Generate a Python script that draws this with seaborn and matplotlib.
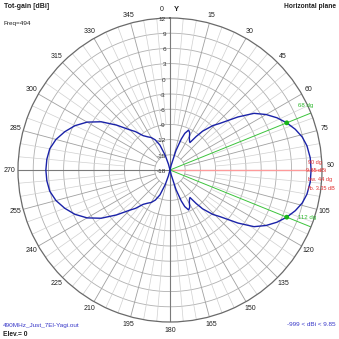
import numpy as np
import pandas as pd
import matplotlib
matplotlib.use("Agg")
import matplotlib.pyplot as plt
import seaborn as sns

# ---- data (bearing in degrees, clockwise from north; gain in dBi)
bearing_deg = [0, 5, 10, 14, 17, 20, 22, 25, 28, 31, 34, 36, 38, 40, 44, 47, 52, 56, 60, 64, 68,
               72, 76, 80, 85, 90, 95, 100, 104, 108, 112, 116, 120, 124, 128, 133, 136, 140,
               142, 144, 146, 149, 152, 155, 158, 160, 163, 166, 170, 175, 180,
               185, 190, 195, 198, 202, 206, 210, 214, 218, 222, 225, 230, 235, 240, 245, 250,
               255, 260, 265, 270, 275, 280, 285, 290, 295, 300, 305, 310, 315, 318, 322, 326,
               330, 334, 338, 342, 345, 350, 355, 360]
gain_dbi = [-18, -18, -18, -17, -14, -11.5, -10.2, -9.3, -9.7, -10.6, -11.1, -11.3, -9.6, -8.0, -5.8, -4.5, -1.0, 2.0, 3.9, 5.5, 6.85,
            8.0, 8.9, 9.45, 9.78, 9.85, 9.78, 9.45, 8.9, 8.0, 6.85, 5.5, 3.9, 2.0, -1.0, -4.5, -5.8, -8.0,
            -9.6, -11.3, -11.1, -10.6, -9.7, -9.3, -10.2, -11.5, -14, -17, -18, -18, -18,
            -18, -18, -16.8, -15, -12.7, -11.4, -10.6, -10.1, -9.4, -7.8, -6.8, -4.2, -1.4, 0.9, 2.7, 4.1,
            5.3, 6.1, 6.4, 6.5, 6.4, 6.1, 5.3, 4.1, 2.7, 0.9, -1.4, -4.2, -6.8, -7.8, -9.4, -10.1,
            -10.6, -11.4, -12.7, -15, -16.8, -18, -18, -18]

ring_values = [12, 9, 6, 3, 0, -3, -6, -9, -12, -15, -18]
ring_labels = ["12", "9", "6", "3", "0", "-3", "-6", "-9", "-12", "-15", "-18"]
angle_ticks = list(range(0, 360, 15))
angle_labels = [str(a) for a in angle_ticks]

max_dir = 90
max_gain = 9.85
bw_dirs = [68, 112]
bw_gain = 6.85
fb = 3.35
bw = 44

R_MIN, R_MAX = -18, 12

sns.set_style("white")
plt.rcParams['font.family'] = ['Liberation Sans', 'DejaVu Sans']

W = H = 339
fig = plt.figure(figsize=(W / 100, H / 100), dpi=100)
cx, cy, rad = 170, 170, 152
ax = fig.add_axes([(cx - rad) / W, (H - cy - rad) / H, 2 * rad / W, 2 * rad / H],
                  projection='polar')
ax.set_theta_zero_location('N')
ax.set_theta_direction(-1)
ax.set_ylim(R_MIN, R_MAX)
ax.set_xticks([])
ax.set_yticks([])
ax.grid(False)
ax.spines['polar'].set_color('#6a6a6a')
ax.spines['polar'].set_linewidth(0.9)

# grid rings
tt = np.linspace(0, 2 * np.pi, 721)
for rv in ring_values[1:-1]:
    ax.plot(tt, np.full_like(tt, rv), color='#b0b0b0', lw=0.6, zorder=1)

# radial grid lines
for a in range(0, 360, 5):
    th = np.deg2rad(a)
    if a % 90 == 0:
        ax.plot([th, th], [R_MIN, R_MAX], color='#7a7a7a', lw=0.8, zorder=1)
    elif a % 15 == 0:
        ax.plot([th, th], [-15, R_MAX], color='#a0a0a0', lw=0.6, zorder=1)
    else:
        ax.plot([th, th], [-9, R_MAX], color='#d0d0d0', lw=0.5, zorder=1)

# max direction line (red) and beamwidth lines (green)
ax.plot([np.deg2rad(max_dir)] * 2, [R_MIN, R_MAX], color='#ff9a9a', lw=0.9, zorder=2)
for d in bw_dirs:
    ax.plot([np.deg2rad(d)] * 2, [R_MIN, R_MAX], color='#3cc43c', lw=0.7, zorder=2)

# pattern
df = pd.DataFrame({'theta': np.deg2rad(bearing_deg), 'gain': gain_dbi})
sns.lineplot(data=df, x='theta', y='gain', ax=ax, sort=False, estimator=None,
             color='#1a22a8', lw=1.0, zorder=4)
ax.set_xlabel('')
ax.set_ylabel('')

sns.scatterplot(x=np.deg2rad(bw_dirs), y=[bw_gain] * len(bw_dirs), ax=ax, color='#18b418',
                s=12, edgecolor='none', zorder=5)
ax.set_xlabel('')
ax.set_ylabel('')
ax.set_ylim(R_MIN, R_MAX)

# angle labels
for a, lab in zip(angle_ticks, angle_labels):
    if a == 0:
        ax.text(np.deg2rad(-3), R_MAX + 1.65, lab, ha='center', va='center', fontsize=5, color='#202020')
        ax.text(np.deg2rad(2.2), R_MAX + 1.65, 'Y', ha='center', va='center', fontsize=5.5,
                color='#202020', fontweight='bold')
    elif a == 90:
        ax.text(np.deg2rad(88.5), R_MAX + 1.75, lab, ha='center', va='center', fontsize=5, color='#202020')
    else:
        ax.text(np.deg2rad(a), R_MAX + 1.6, lab, ha='center', va='center', fontsize=5, color='#202020')

# radial labels along 0 axis
for rv, lab in zip(ring_values, ring_labels):
    ax.annotate(lab, xy=(0, rv), xytext=(-3, -1), textcoords='offset points',
                ha='right', va='center', fontsize=4.6, color='#303030')

# texts
def ftext(x, y, s, **kw):
    fig.text(x / W, 1 - y / H, s, **kw)

ftext(4, 7, 'Tot-gain [dBi]', fontsize=5, fontweight='bold', ha='left', va='center', color='#202020')
ftext(4, 23, 'Freq=494', fontsize=4.6, ha='left', va='center', color='#202020')
ftext(336, 7, 'Horizontal plane', fontsize=4.8, fontweight='bold', ha='right', va='center', color='#202020')
ftext(3, 326, '490MHz_Just_7El-Yagi.out', fontsize=4.6, ha='left', va='center', color='#3838c8')
ftext(3, 334, 'Elev.= 0', fontsize=4.8, fontweight='bold', ha='left', va='center', color='#202020')
ftext(336, 324, f'-999 < dBi < {max_gain:.2f}', fontsize=4.6, ha='right', va='center', color='#3838c8')

ftext(298, 105, f'{bw_dirs[0]} dg', fontsize=4.4, ha='left', va='center', color='#2cb82c')
ftext(298, 218, f'{bw_dirs[1]} dg', fontsize=4.4, ha='left', va='center', color='#2cb82c')
ftext(308, 162, f'{max_dir} dg', fontsize=4.0, ha='left', va='center', color='#e03030')
ftext(306, 171, f'{max_gain:.2f} dBi', fontsize=4.0, ha='left', va='center', color='#e03030')
ftext(308, 179, f'bw. {bw} dg', fontsize=4.0, ha='left', va='center', color='#e03030')
ftext(308, 188, f'fb. {fb:.2f} dB', fontsize=4.0, ha='left', va='center', color='#e03030')

fig.savefig('out.png', dpi=100, facecolor='white')
